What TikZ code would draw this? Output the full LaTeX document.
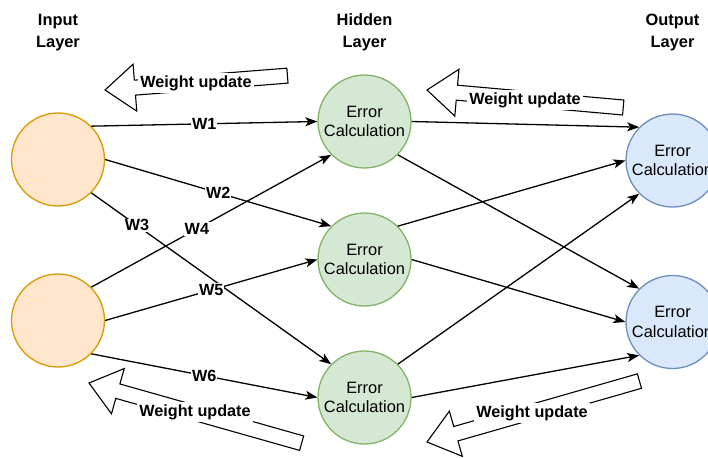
\documentclass[tikz,border=0pt]{standalone}
\usepackage{fontspec}
\setmainfont{Liberation Sans}
\usepackage{tikz}
\usetikzlibrary{arrows,arrows.meta,shapes,positioning}
\usepackage{xcolor}
\definecolor{inorange}{RGB}{215,155,0}
\definecolor{infill}{RGB}{255,230,204}
\definecolor{hidgreen}{RGB}{130,179,102}
\definecolor{hidfill}{RGB}{213,232,212}
\definecolor{outblue}{RGB}{108,142,191}
\definecolor{outfill}{RGB}{218,232,252}
\tikzstyle{neuron} = [circle, minimum size=93pt, inner sep=0pt, line width=1.3pt, align=center, font=\fontsize{16.4}{19.5}\selectfont]
\tikzstyle{innode} = [neuron, draw=inorange, fill=infill]
\tikzstyle{hidnode} = [neuron, draw=hidgreen, fill=hidfill]
\tikzstyle{outnode} = [neuron, draw=outblue, fill=outfill]
\tikzstyle{arrow} = [line width=1.3pt, -{Stealth[length=12pt,width=9pt,inset=3pt]}]
\tikzstyle{wlabel} = [fill=white, inner sep=1pt, font=\bfseries\fontsize{16.2}{19.5}\selectfont]
\tikzstyle{layerlabel} = [align=center, font=\bfseries\fontsize{16.4}{22.5}\selectfont]
\tikzstyle{bigarrow} = [draw=black, fill=white, line width=1.1pt, line join=miter]
\tikzstyle{updatelabel} = [fill=white, inner sep=2pt, font=\bfseries\fontsize{16.2}{19.5}\selectfont]
% hollow arrow: tip x, tip y, rotation, length
\newcommand{\updatearrow}[4]{%
  \draw[bigarrow, shift={(#1,#2)}, rotate=#3] (0,0) -- (30,23.5) -- (30,7.5) -- (#4,7.5)
    -- (#4,-7.5) -- (30,-7.5) -- (30,-23.5) -- cycle;}

\begin{document}
\begin{tikzpicture}[x=1pt, y=-1pt]
\useasboundingbox (0,0) rectangle (708,457);
\clip (0,0) rectangle (708,457);

% Layer titles
\node[layerlabel] (inlabel) at (58,32.5) {Input\\Layer};
\node[layerlabel] (hidlabel) at (364.5,32.5) {Hidden\\Layer};
\node[layerlabel] (outlabel) at (672.5,32.5) {Output\\Layer};

% Neurons
\node[innode] (i1) at (58,159.5) {};
\node[innode] (i2) at (58,320.5) {};
\node[hidnode] (h1) at (364.5,121.5) {Error\\Calculation};
\node[hidnode] (h2) at (364.5,259.5) {Error\\Calculation};
\node[hidnode] (h3) at (364.5,397.5) {Error\\Calculation};
\node[outnode] (o1) at (672.5,160.5) {Error\\Calculation};
\node[outnode] (o2) at (672.5,322) {Error\\Calculation};

% Input to hidden
\draw[arrow] (i1.45) -- node[wlabel] {W1} (h1.180);
\draw[arrow] (i1.0) -- node[wlabel] {W2} (h2.135);
\draw[arrow] (i1.-45) -- node[wlabel, pos=0.19] {W3} (h3.135);
\draw[arrow] (i2.45) -- node[wlabel, pos=0.44] {W4} (h1.225);
\draw[arrow] (i2.0) -- node[wlabel] {W5} (h2.180);
\draw[arrow] (i2.-45) -- node[wlabel] {W6} (h3.180);

% Hidden to output
\draw[arrow] (h1.0) -- (o1.135);
\draw[arrow] (h1.-45) -- (o2.135);
\draw[arrow] (h2.45) -- (o1.180);
\draw[arrow] (h2.0) -- (o2.180);
\draw[arrow] (h3.45) -- (o1.225);
\draw[arrow] (h3.0) -- (o2.225);

% Backward pass
\updatearrow{105}{90}{4.5}{183}
\updatearrow{427}{90}{-5.1}{197}
\updatearrow{89}{383}{-15.8}{221}
\updatearrow{427}{442}{16}{221}
\node[updatelabel] (wu1) at (196,83) {Weight update};
\node[updatelabel] (wu2) at (525,100) {Weight update};
\node[updatelabel] (wu3) at (195,412) {Weight update};
\node[updatelabel] (wu4) at (532,413) {Weight update};
\end{tikzpicture}
\end{document}
